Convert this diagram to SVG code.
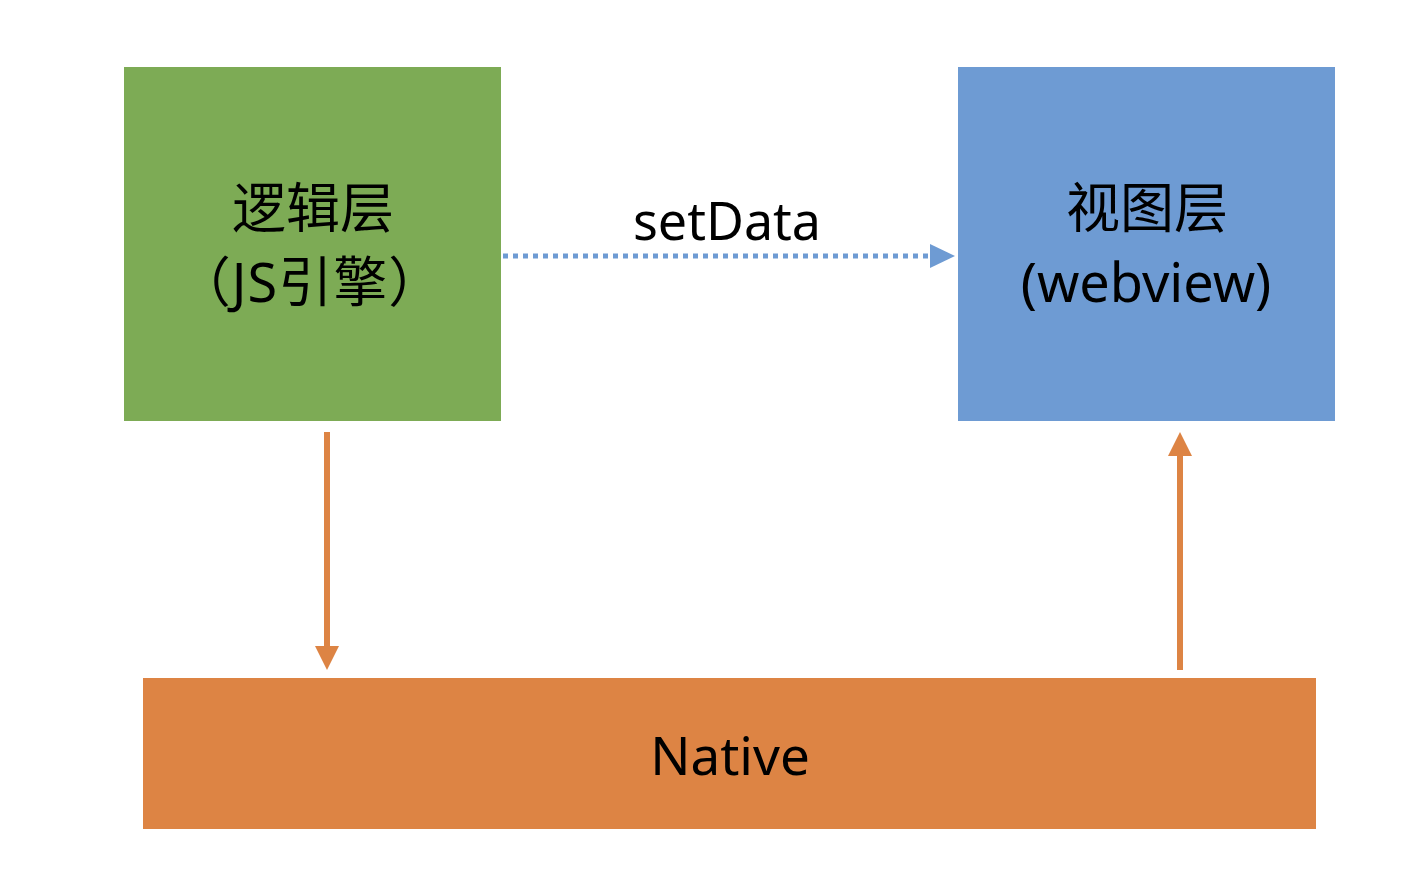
<svg xmlns="http://www.w3.org/2000/svg" width="1411" height="878" viewBox="0 0 1411 878">
<style>
.t{font-family:"Noto Sans","Noto Sans CJK SC",sans-serif;fill:#000;text-anchor:middle}
.orange{stroke:#dd8444;stroke-width:6;fill:none}
</style>
<rect width="1411" height="878" fill="#fff"/>
<g id="logic">
<rect x="124" y="67" width="377" height="354" fill="#7dab55"/>
<text class="t" x="313" y="228" font-size="54">逻辑层</text>
<text class="t" x="310" y="302" font-size="54" letter-spacing="1">（JS引擎）</text>
</g>
<g id="view">
<rect x="958" y="67" width="377" height="354" fill="#6e9bd3"/>
<text class="t" x="1147" y="228" font-size="54">视图层</text>
<text class="t" x="1146" y="302" font-size="54">(webview)</text>
</g>
<g id="native">
<rect x="143" y="678" width="1173" height="151" fill="#dd8444"/>
<text class="t" x="730" y="775" font-size="53">Native</text>
</g>
<g id="connectors">
<line x1="503" y1="256" x2="928" y2="256" stroke="#6e9bd3" stroke-width="5" stroke-dasharray="5 5"/>
<path d="M930,244 L955,256 L930,268 Z" fill="#6e9bd3"/>
<text class="t" x="727" y="240" font-size="52">setData</text>
<line x1="327" y1="432" x2="327" y2="648" class="orange"/>
<path d="M315,646 L339,646 L327,670 Z" fill="#dd8444"/>
<line x1="1180" y1="670" x2="1180" y2="454" class="orange"/>
<path d="M1168,456 L1192,456 L1180,432 Z" fill="#dd8444"/>
</g>
</svg>
